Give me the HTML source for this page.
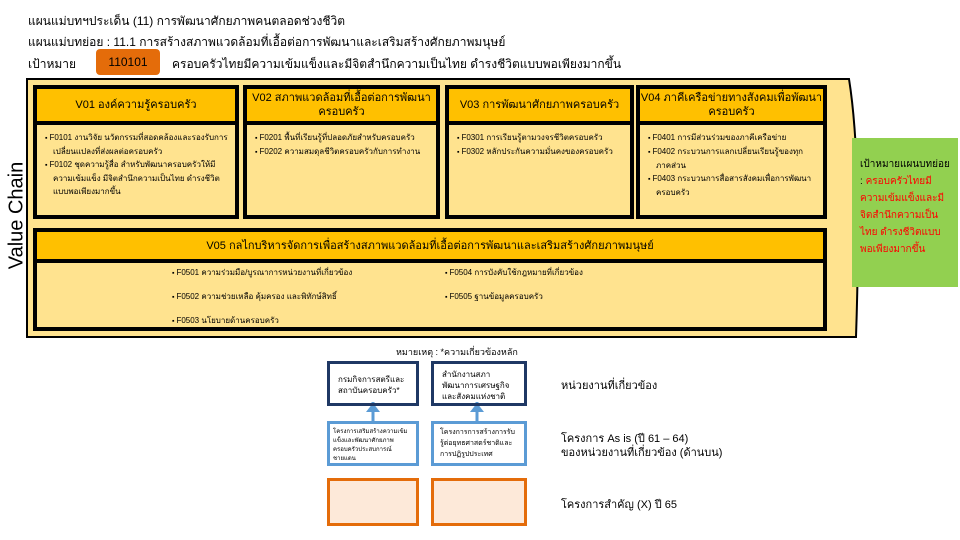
<!DOCTYPE html>
<html><head><meta charset="utf-8"><style>
*{margin:0;padding:0;box-sizing:border-box}
body{width:960px;height:540px;background:#fff;position:relative;overflow:hidden;font-family:"Liberation Sans","Noto Sans CJK SC",sans-serif;color:#000}
.a{position:absolute}
.t{font-size:12px;white-space:nowrap}
.box{position:absolute;border:4px solid #000;background:#ffe38f}
.hd{background:#ffc000;border-bottom:4px solid #000;text-align:center;font-size:11px;line-height:14px;display:flex;align-items:center;justify-content:center}
.it{font-size:8px;line-height:13px;padding:6px 6px 0 8px}
.it p{padding-left:8px;text-indent:-8px}
.it p:before{content:"▪ ";font-size:7px}
</style></head><body>
<div class="a t" style="left:28px;top:12px">แผนแม่บทฯประเด็น (11) การพัฒนาศักยภาพคนตลอดช่วงชีวิต</div>
<div class="a t" style="left:28px;top:33px">แผนแม่บทย่อย : 11.1 การสร้างสภาพแวดล้อมที่เอื้อต่อการพัฒนาและเสริมสร้างศักยภาพมนุษย์</div>
<div class="a t" style="left:28px;top:55px">เป้าหมาย</div>
<div class="a" style="left:96px;top:49px;width:64px;height:26px;background:#e46c0a;border-radius:4px;font-size:12px;text-align:center;line-height:26px">110101</div>
<div class="a t" style="left:172px;top:55px">ครอบครัวไทยมีความเข้มแข็งและมีจิตสำนึกความเป็นไทย ดำรงชีวิตแบบพอเพียงมากขึ้น</div>
<svg class="a" style="left:0;top:0" width="960" height="540">
<path d="M27,79 L849,79 Q862,160 856,337 L27,337 Z" fill="#ffe38f" stroke="#000" stroke-width="2"/>
<line x1="373" y1="402" x2="373" y2="421" stroke="#5b9bd5" stroke-width="3"/>
<polygon points="366,412 373,403 380,412" fill="#5b9bd5"/>
<line x1="477" y1="402" x2="477" y2="421" stroke="#5b9bd5" stroke-width="3"/>
<polygon points="470,412 477,403 484,412" fill="#5b9bd5"/>
</svg>
<div class="a" style="left:-38px;top:204px;width:110px;transform:rotate(-90deg);font-size:20px;text-align:center;white-space:nowrap">Value Chain</div>

<div class="box" style="left:33px;top:85px;width:206px;height:134px"><div class="hd" style="height:36px">V01 องค์ความรู้ครอบครัว</div><div class="it"><p>F0101 งานวิจัย นวัตกรรมที่สอดคล้องและรองรับการเปลี่ยนแปลงที่ส่งผลต่อครอบครัว</p><p>F0102 ชุดความรู้สื่อ สำหรับพัฒนาครอบครัวให้มีความเข้มแข็ง มีจิตสำนึกความเป็นไทย ดำรงชีวิตแบบพอเพียงมากขึ้น</p></div></div>
<div class="box" style="left:243px;top:85px;width:197px;height:134px"><div class="hd" style="height:36px">V02 สภาพแวดล้อมที่เอื้อต่อการพัฒนาครอบครัว</div><div class="it"><p>F0201 พื้นที่เรียนรู้ที่ปลอดภัยสำหรับครอบครัว</p><p>F0202 ความสมดุลชีวิตครอบครัวกับการทำงาน</p></div></div>
<div class="box" style="left:445px;top:85px;width:189px;height:134px"><div class="hd" style="height:36px">V03 การพัฒนาศักยภาพครอบครัว</div><div class="it"><p>F0301 การเรียนรู้ตามวงจรชีวิตครอบครัว</p><p>F0302 หลักประกันความมั่นคงของครอบครัว</p></div></div>
<div class="box" style="left:636px;top:85px;width:191px;height:134px"><div class="hd" style="height:36px">V04 ภาคีเครือข่ายทางสังคมเพื่อพัฒนาครอบครัว</div><div class="it"><p>F0401 การมีส่วนร่วมของภาคีเครือข่าย</p><p>F0402 กระบวนการแลกเปลี่ยนเรียนรู้ของทุกภาคส่วน</p><p>F0403 กระบวนการสื่อสารสังคมเพื่อการพัฒนาครอบครัว</p></div></div>
<div class="box" style="left:33px;top:228px;width:794px;height:103px"><div class="hd" style="height:31px">V05 กลไกบริหารจัดการเพื่อสร้างสภาพแวดล้อมที่เอื้อต่อการพัฒนาและเสริมสร้างศักยภาพมนุษย์</div>
<div class="it a" style="left:135px;top:29px;line-height:23px;padding:0"><p>F0501 ความร่วมมือ/บูรณาการหน่วยงานที่เกี่ยวข้อง</p><p>F0502 ความช่วยเหลือ คุ้มครอง และพิทักษ์สิทธิ์</p><p>F0503 นโยบายด้านครอบครัว</p></div>
<div class="it a" style="left:408px;top:29px;line-height:23px;padding:0"><p>F0504 การบังคับใช้กฎหมายที่เกี่ยวข้อง</p><p>F0505 ฐานข้อมูลครอบครัว</p></div></div>

<div class="a" style="left:852px;top:138px;width:106px;height:149px;background:#92d050;font-size:10px;line-height:17px;padding:18px 6px 0 8px">เป้าหมายแผนบทย่อย : <span style="color:#f00">ครอบครัวไทยมีความเข้มแข็งและมีจิตสำนึกความเป็นไทย ดำรงชีวิตแบบพอเพียงมากขึ้น</span></div>

<div class="a" style="left:396px;top:345px;font-size:9px">หมายเหตุ : *ความเกี่ยวข้องหลัก</div>
<div class="a" style="left:327px;top:361px;width:92px;height:45px;border:3px solid #1f3864;font-size:8px;line-height:11px;padding:10px 8px">กรมกิจการสตรีและสถาบันครอบครัว*</div>
<div class="a" style="left:431px;top:361px;width:96px;height:45px;border:3px solid #1f3864;font-size:8px;line-height:11px;padding:5px 8px">สำนักงานสภาพัฒนาการเศรษฐกิจและสังคมแห่งชาติ</div>
<div class="a" style="left:327px;top:421px;width:92px;height:45px;border:3px solid #5b9bd5;font-size:6px;line-height:9px;padding:4px 3px;overflow:hidden">โครงการเสริมสร้างความเข้มแข็งและพัฒนาศักยภาพครอบครัวประสบการณ์ชายแดน</div>
<div class="a" style="left:431px;top:421px;width:96px;height:45px;border:3px solid #5b9bd5;font-size:7px;line-height:11px;padding:3px 6px;overflow:hidden">โครงการการสร้างการรับรู้ต่อยุทธศาสตร์ชาติและการปฏิรูปประเทศ</div>
<div class="a" style="left:327px;top:478px;width:92px;height:48px;border:3px solid #e46c0a;background:#fde9d9"></div>
<div class="a" style="left:431px;top:478px;width:96px;height:48px;border:3px solid #e46c0a;background:#fde9d9"></div>
<div class="a" style="left:561px;top:376px;font-size:11px">หน่วยงานที่เกี่ยวข้อง</div>
<div class="a" style="left:561px;top:432px;font-size:11px;line-height:14px">โครงการ As is (ปี 61 – 64)<br>ของหน่วยงานที่เกี่ยวข้อง (ด้านบน)</div>
<div class="a" style="left:561px;top:495px;font-size:11px">โครงการสำคัญ (X) ปี 65</div>
</body></html>
